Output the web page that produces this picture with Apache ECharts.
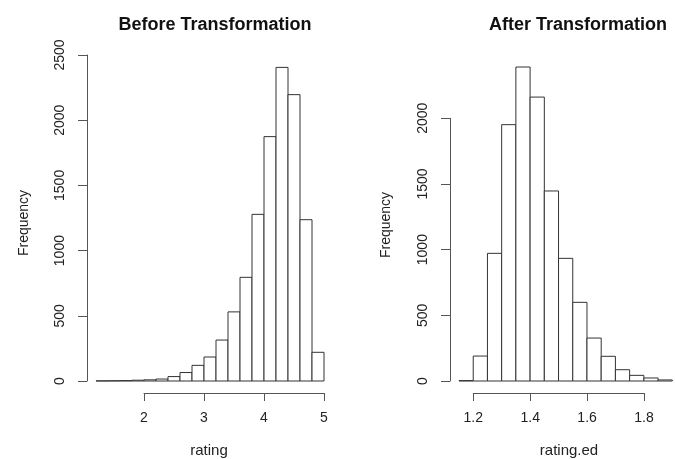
<!DOCTYPE html>
<html>
<head>
<meta charset="utf-8">
<script src="https://cdn.jsdelivr.net/npm/echarts@6/dist/echarts.min.js"></script>
<style>
  html, body { margin: 0; padding: 0; background: #fff; }
  #main { width: 675px; height: 459px; }
</style>
</head>
<body>
<div id="main"></div>
<script>
// histogram of rating (before)
var beforeBreaks = [1.2, 1.4, 1.6, 1.8, 2.0, 2.2, 2.4, 2.6, 2.8, 3.0, 3.2, 3.4, 3.6, 3.8, 4.0, 4.2, 4.4, 4.6, 4.8, 5.0];
var beforeCounts = [1, 2, 3, 6, 9, 15, 34, 65, 120, 184, 314, 530, 795, 1278, 1874, 2405, 2196, 1237, 220];
var beforeXTicks = [2, 3, 4, 5];
var beforeYTicks = [0, 500, 1000, 1500, 2000, 2500];

// histogram of rating.ed (after)
var afterBreaks = [1.15, 1.20, 1.25, 1.30, 1.35, 1.40, 1.45, 1.50, 1.55, 1.60, 1.65, 1.70, 1.75, 1.80, 1.85, 1.90];
var afterCounts = [3, 190, 972, 1952, 2391, 2162, 1447, 934, 599, 327, 188, 86, 43, 23, 8];
var afterXTicks = [1.2, 1.4, 1.6, 1.8];
var afterYTicks = [0, 500, 1000, 1500, 2000];

var FONT = "'Liberation Sans', Arial, sans-serif";
var TXT = '#222';
var AXC = '#555';

function toRects(breaks, counts) {
  var out = [];
  for (var i = 0; i < counts.length; i++) {
    out.push([breaks[i], breaks[i + 1], counts[i]]);
  }
  return out;
}

function renderBin(params, api) {
  var p0 = api.coord([api.value(0), 0]);
  var p1 = api.coord([api.value(1), api.value(2)]);
  return {
    type: 'rect',
    shape: { x: p0[0], y: p1[1], width: p1[0] - p0[0], height: p0[1] - p1[1] },
    style: { fill: '#fff', stroke: '#333', lineWidth: 1 }
  };
}

function hiddenAxis(gi, min, max) {
  return { type: 'value', gridIndex: gi, min: min, max: max, show: false };
}

function step(ticks) {
  return Math.round((ticks[1] - ticks[0]) * 1000) / 1000;
}

function xTickAxis(gi, ticks, digits) {
  return {
    type: 'value', gridIndex: gi, position: 'bottom',
    min: ticks[0], max: ticks[ticks.length - 1], interval: step(ticks),
    axisLine: { show: true, lineStyle: { color: AXC, width: 1 } },
    axisTick: { show: true, inside: false, length: 8, lineStyle: { color: AXC } },
    axisLabel: { show: true, margin: 18, color: TXT, fontSize: 14, fontFamily: FONT,
      formatter: function (v) { return v.toFixed(digits); } },
    splitLine: { show: false }
  };
}

function yTickAxis(gi, ticks) {
  return {
    type: 'value', gridIndex: gi, position: 'left',
    min: ticks[0], max: ticks[ticks.length - 1], interval: step(ticks),
    axisLine: { show: true, lineStyle: { color: AXC, width: 1 } },
    axisTick: { show: true, inside: false, length: 9, lineStyle: { color: AXC } },
    axisLabel: { show: true, rotate: 90, margin: 20, color: TXT, fontSize: 14, fontFamily: FONT,
      formatter: function (v) { return String(v); } },
    splitLine: { show: false }
  };
}

var chart = echarts.init(document.getElementById('main'));

var option = {
  backgroundColor: '#fff',
  animation: false,
  title: [
    { text: 'Before Transformation', left: 210, top: 11, textAlign: 'center',
      textStyle: { fontSize: 18, fontWeight: 'bold', color: '#111', fontFamily: FONT } },
    { text: 'After Transformation', left: 573, top: 11, textAlign: 'center',
      textStyle: { fontSize: 18, fontWeight: 'bold', color: '#111', fontFamily: FONT } }
  ],
  grid: [
    // left panel: bars, x ticks, y ticks
    { left: 96, top: 55, width: 228, height: 326, outerBoundsMode: 'none' },
    { left: 144, top: 300, width: 180, height: 93, outerBoundsMode: 'none' },
    { left: 87, top: 55, width: 200, height: 326, outerBoundsMode: 'none' },
    // right panel
    { left: 459, top: 52.7, width: 213.3, height: 328.3, outerBoundsMode: 'none' },
    { left: 473.3, top: 300, width: 170.7, height: 93, outerBoundsMode: 'none' },
    { left: 450, top: 118.3, width: 200, height: 262.7, outerBoundsMode: 'none' }
  ],
  xAxis: [
    hiddenAxis(0, beforeBreaks[0], beforeBreaks[beforeBreaks.length - 1]),
    xTickAxis(1, beforeXTicks, 0),
    hiddenAxis(2, 0, 1),
    hiddenAxis(3, afterBreaks[0], afterBreaks[afterBreaks.length - 1]),
    xTickAxis(4, afterXTicks, 1),
    hiddenAxis(5, 0, 1)
  ],
  yAxis: [
    hiddenAxis(0, 0, 2500),
    hiddenAxis(1, 0, 1),
    yTickAxis(2, beforeYTicks),
    hiddenAxis(3, 0, 2500),
    hiddenAxis(4, 0, 1),
    yTickAxis(5, afterYTicks)
  ],
  graphic: [
    { type: 'text', x: 24, y: 223, rotation: Math.PI / 2,
      style: { text: 'Frequency', fill: TXT, font: '14px ' + FONT, textAlign: 'center', textVerticalAlign: 'middle' } },
    { type: 'text', x: 386, y: 225, rotation: Math.PI / 2,
      style: { text: 'Frequency', fill: TXT, font: '14px ' + FONT, textAlign: 'center', textVerticalAlign: 'middle' } },
    { type: 'text', x: 209, y: 451,
      style: { text: 'rating', fill: TXT, font: '15px ' + FONT, textAlign: 'center', textVerticalAlign: 'middle' } },
    { type: 'text', x: 569, y: 451,
      style: { text: 'rating.ed', fill: TXT, font: '15px ' + FONT, textAlign: 'center', textVerticalAlign: 'middle' } }
  ],
  series: [
    { type: 'custom', xAxisIndex: 0, yAxisIndex: 0, renderItem: renderBin,
      data: toRects(beforeBreaks, beforeCounts) },
    { type: 'custom', xAxisIndex: 3, yAxisIndex: 3, renderItem: renderBin,
      data: toRects(afterBreaks, afterCounts) }
  ]
};

chart.setOption(option);
</script>
</body>
</html>
